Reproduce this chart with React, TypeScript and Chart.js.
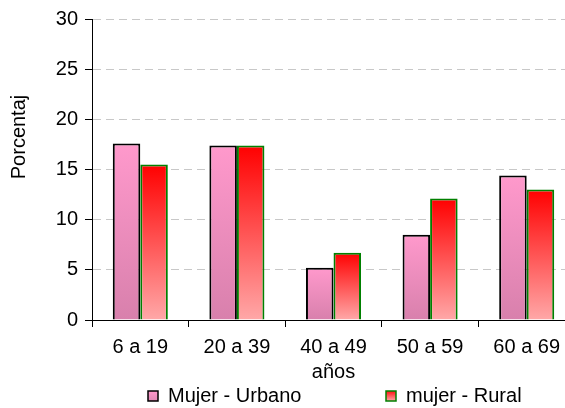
import React, { useEffect, useRef } from 'react';
import { Chart, registerables } from 'chart.js';

Chart.register(...registerables);

const categories = ['6 a 19', '20 a 39', '40 a 49', '50 a 59', '60 a 69'];
const urbanValues = [17.6, 17.4, 5.2, 8.5, 14.4];
const ruralValues = [15.5, 17.4, 6.7, 12.1, 13.0];
const seriesLabels = ['Mujer - Urbano', 'mujer - Rural'];
const xTitle = 'años';
const yTitle = 'Porcentaj';
const yMin = 0;
const yMax = 30;
const yStep = 5;

const FONT = '"Liberation Sans", Arial, sans-serif';

function barGradient(c: any, top: string, bottom: string, fallback: string) {
  const chart = c.chart;
  const { ctx, chartArea, scales } = chart;
  if (!chartArea || c.type !== 'data' || !scales || !scales.y) return fallback;
  const v = c.raw as number;
  const y0 = scales.y.getPixelForValue(v);
  const y1 = scales.y.getPixelForValue(0);
  if (!isFinite(y0) || !isFinite(y1) || y0 === y1) return fallback;
  const g = ctx.createLinearGradient(0, y0, 0, y1);
  g.addColorStop(0, top);
  g.addColorStop(1, bottom);
  return g;
}

const extrasPlugin = {
  id: 'extras',
  afterDraw(chart: any) {
    const ctx = chart.ctx as CanvasRenderingContext2D;
    const area = chart.chartArea;
    ctx.save();
    // Y axis title
    ctx.font = `20px ${FONT}`;
    ctx.fillStyle = '#000';
    ctx.textAlign = 'center';
    ctx.textBaseline = 'middle';
    ctx.translate(19, 137);
    ctx.rotate(-Math.PI / 2);
    ctx.fillText(yTitle, 0, 0);
    ctx.restore();

    // Legend
    ctx.save();
    ctx.font = `20px ${FONT}`;
    ctx.textBaseline = 'middle';
    ctx.textAlign = 'left';
    const ly = 396;
    const boxes = [
      { x: area.left + 56, label: seriesLabels[0], stroke: '#000', top: '#FF99CC', bottom: '#E088B4' },
      { x: area.left + 294, label: seriesLabels[1], stroke: '#008000', top: '#FF1010', bottom: '#FFA6A6' },
    ];
    boxes.forEach((b) => {
      const g = ctx.createLinearGradient(0, ly - 5, 0, ly + 5);
      g.addColorStop(0, b.top);
      g.addColorStop(1, b.bottom);
      ctx.fillStyle = g;
      ctx.fillRect(b.x, ly - 5, 10, 10);
      ctx.strokeStyle = b.stroke;
      ctx.lineWidth = 1.5;
      ctx.strokeRect(b.x, ly - 5, 10, 10);
      ctx.fillStyle = '#000';
      ctx.fillText(b.label, b.x + 20, ly);
    });
    ctx.restore();
  },
};

export default function App() {
  const ref = useRef<HTMLCanvasElement | null>(null);

  useEffect(() => {
    if (!ref.current) return;
    const chart = new Chart(ref.current, {
      type: 'bar',
      data: {
        labels: categories,
        datasets: [
          {
            label: seriesLabels[0],
            data: urbanValues,
            backgroundColor: (c: any) => barGradient(c, '#FF99CC', '#D880AC', '#F090C0'),
            borderColor: '#000000',
            borderWidth: 2,
            categoryPercentage: 0.57,
            barPercentage: 1,
          },
          {
            label: seriesLabels[1],
            data: ruralValues,
            backgroundColor: (c: any) => barGradient(c, '#FF0000', '#FFA8A8', '#FF6060'),
            borderColor: '#008000',
            borderWidth: 2,
            categoryPercentage: 0.57,
            barPercentage: 1,
          },
        ],
      },
      options: {
        animation: false,
        responsive: false,
        devicePixelRatio: 1,
        layout: { padding: { top: 18, right: 25, bottom: 24, left: 0 } },
        plugins: {
          legend: { display: false },
          tooltip: { enabled: false },
        },
        scales: {
          x: {
            offset: true,
            afterFit: (s: any) => {
              s.height = 64;
            },
            grid: {
              display: true,
              offset: true,
              drawOnChartArea: false,
              drawTicks: true,
              tickLength: 7,
              color: '#000',
              tickColor: '#000',
            },
            border: { display: true, color: '#000', width: 1 },
            ticks: {
              color: '#000',
              font: { family: FONT, size: 20 },
              padding: 8,
              maxRotation: 0,
              autoSkip: false,
            },
            title: {
              display: true,
              text: xTitle,
              color: '#000',
              font: { family: FONT, size: 20 },
              padding: { top: 0, bottom: 0 },
            },
          },
          y: {
            min: yMin,
            max: yMax,
            afterFit: (s: any) => {
              s.width = 92;
            },
            grid: {
              color: (c: any) => (c.tick && c.tick.value === 0 ? 'rgba(0,0,0,0)' : '#C8C8C8'),
              lineWidth: 1,
              drawTicks: true,
              tickLength: 7,
              tickColor: '#000',
              tickBorderDash: [],
            },
            border: { display: true, color: '#000', width: 1, dash: [8, 5] },
            ticks: {
              stepSize: yStep,
              color: '#000',
              font: { family: FONT, size: 20 },
              padding: 7,
            },
          },
        },
      },
      plugins: [extrasPlugin],
    });
    return () => chart.destroy();
  }, []);

  return (
    <div
      style={{
        position: 'fixed',
        left: 0,
        top: 0,
        width: 565,
        height: 408,
        overflow: 'hidden',
        background: '#fff',
      }}
    >
      <canvas ref={ref} width={600} height={408} style={{ width: 600, height: 408, display: 'block' }} />
    </div>
  );
}
